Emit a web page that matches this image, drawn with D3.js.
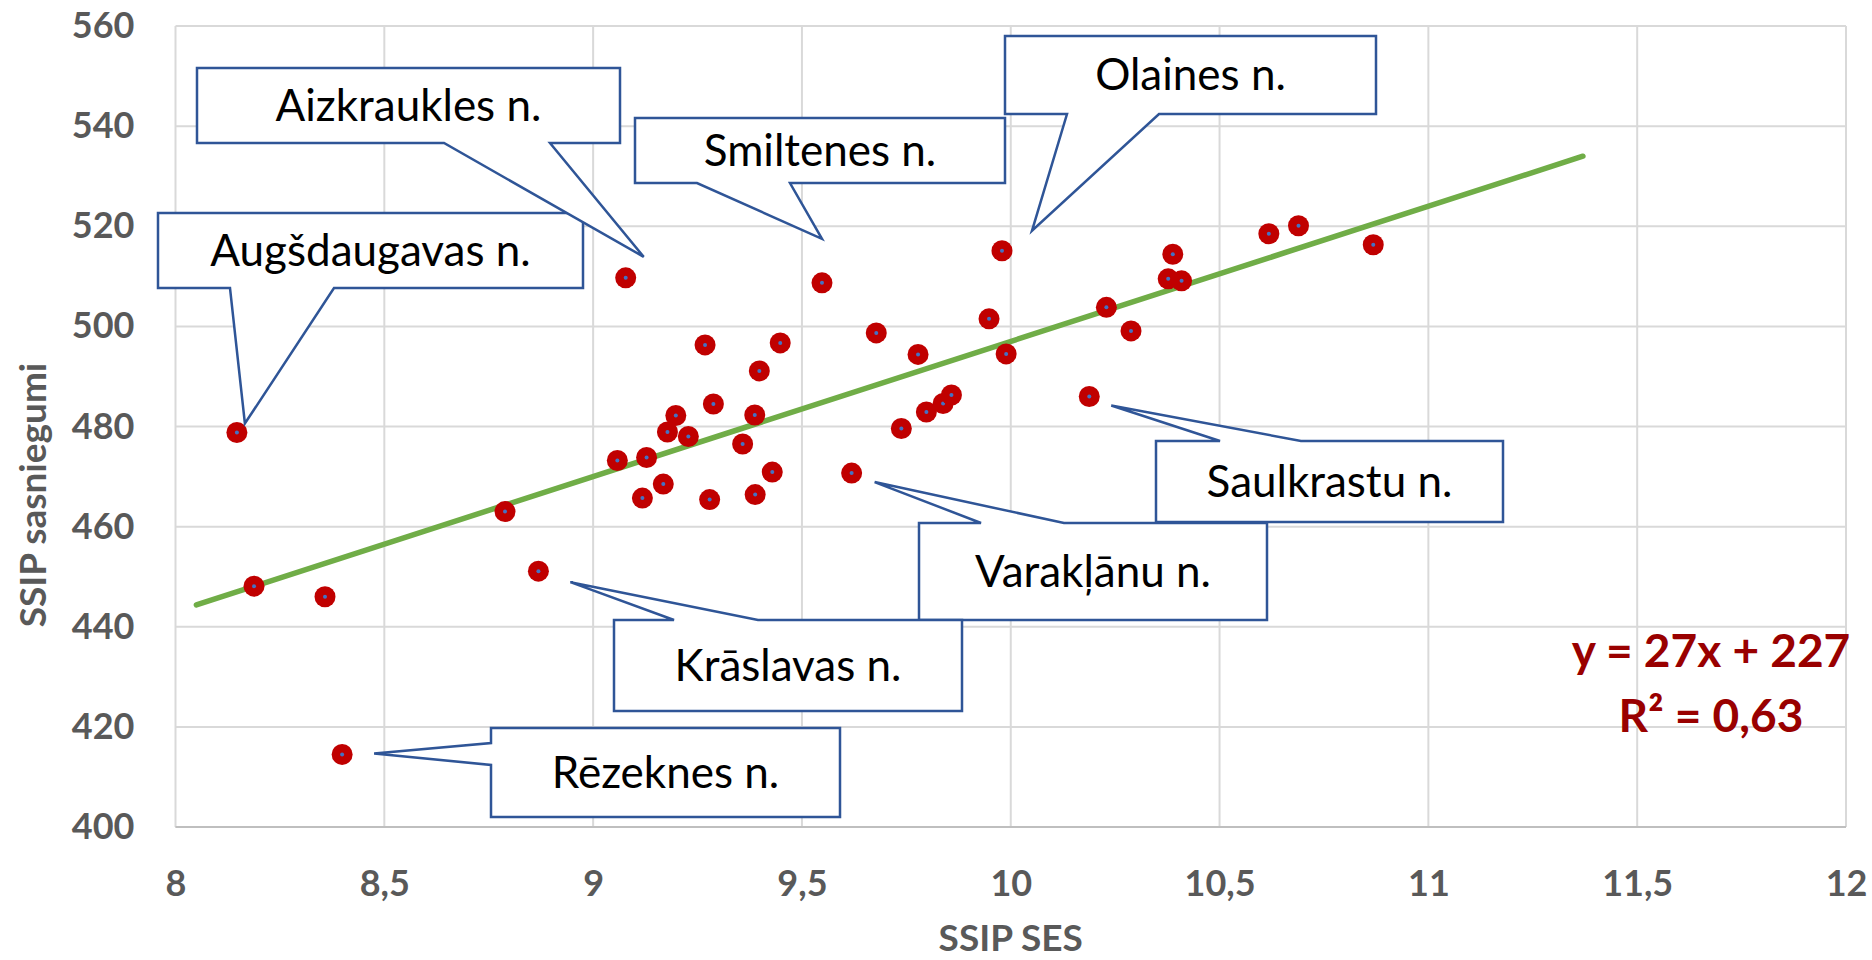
<!DOCTYPE html>
<html>
<head>
<meta charset="utf-8">
<script src="https://cdn.jsdelivr.net/npm/d3@7"></script>
<style>
  body { margin: 0; background: #fff; }
  svg { display: block; }
  text { font-family: Lato, "Open Sans", sans-serif; }
</style>
</head>
<body>
<svg id="chart" width="1872" height="960"></svg>
<script>
// dati: SSIP SES (x) un SSIP sasniegumi (y)
const ses = [8.147, 8.188, 8.358, 8.399, 8.789, 8.869, 9.058, 9.078, 9.118, 9.128,
  9.168, 9.178, 9.198, 9.228, 9.268, 9.279, 9.288, 9.358, 9.387, 9.388,
  9.398, 9.429, 9.448, 9.548, 9.619, 9.678, 9.738, 9.778, 9.798, 9.838,
  9.858, 9.948, 9.979, 9.989, 10.188, 10.229, 10.288, 10.377, 10.388, 10.409,
  10.618, 10.689, 10.868];
const scores = [478.8, 448.1, 446.0, 414.5, 463.0, 451.1, 473.2, 509.7, 465.7, 473.8,
  468.5, 478.9, 482.2, 478.0, 496.3, 465.4, 484.5, 476.5, 482.3, 466.4,
  491.1, 470.9, 496.7, 508.7, 470.7, 498.7, 479.6, 494.4, 482.9, 484.6,
  486.3, 501.5, 515.1, 494.5, 486.0, 503.8, 499.1, 509.5, 514.4, 509.1,
  518.5, 520.1, 516.3];

// nosaukumi izceltajiem punktiem (indekss datos)
const labelNames = ["Augšdaugavas n.", "Aizkraukles n.", "Smiltenes n.", "Olaines n.",
  "Saulkrastu n.", "Varakļānu n.", "Krāslavas n.", "Rēzeknes n."];
const labelIdx = [0, 7, 23, 32, 34, 24, 5, 3];

// tendences līnija
const trendCoef = [27, 227];
const trendRange = [8.05, 11.37];
const equationLines = ["y = 27x + 227", "R² = 0,63"];

const xTicks = [8, 8.5, 9, 9.5, 10, 10.5, 11, 11.5, 12];
const yTicks = [400, 420, 440, 460, 480, 500, 520, 540, 560];
const xTitle = "SSIP SES";
const yTitle = "SSIP sasniegumi";

// izvietojums (pikseļos) katram uzrakstam: kaste, bultas pamats, gala nobīde no punkta
const callLayout = [
  { box: [158, 213, 583, 288], side: "bottom", base: [230, 334], off: [8, -9] },
  { box: [197, 68, 620, 143], side: "bottom", base: [444, 550], off: [18, -21] },
  { box: [635, 118, 1005, 183], side: "bottom", base: [697, 790], off: [0, -44] },
  { box: [1005, 36, 1376, 114], side: "bottom", base: [1067, 1159], off: [30, -20] },
  { box: [1156, 441, 1503, 522], side: "top", base: [1220, 1301], off: [22, 9] },
  { box: [919, 523, 1267, 620], side: "top", base: [981, 1064], off: [23, 9] },
  { box: [614, 620, 962, 711], side: "top", base: [674, 758], off: [32, 11] },
  { box: [491, 728, 840, 817], side: "left", base: [743, 765], off: [32, -1] }
];

const svg = d3.select("#chart");
const pLeft = 175.5, pRight = 1846, pTop = 26, pBottom = 827;

const x = d3.scaleLinear().domain([8, 12]).range([pLeft, pRight]);
const y = d3.scaleLinear().domain([400, 560]).range([pBottom, pTop]);
const loc = d3.formatLocale({ decimal: ",", thousands: " ", grouping: [3], currency: ["", "€"] });
const fmt = loc.format("~g");

// režģis
svg.append("g").selectAll("line").data(yTicks).join("line")
  .attr("x1", pLeft).attr("x2", pRight)
  .attr("y1", d => y(d)).attr("y2", d => y(d))
  .attr("stroke", "#D9D9D9").attr("stroke-width", 2);
svg.append("g").selectAll("line").data(xTicks).join("line")
  .attr("x1", d => x(d)).attr("x2", d => x(d))
  .attr("y1", pTop).attr("y2", pBottom)
  .attr("stroke", "#D9D9D9").attr("stroke-width", 2);
svg.append("line")
  .attr("x1", pLeft).attr("x2", pRight).attr("y1", pBottom).attr("y2", pBottom)
  .attr("stroke", "#BFBFBF").attr("stroke-width", 2);

// asis
const yAxis = svg.append("g").attr("transform", `translate(${pLeft},0)`)
  .call(d3.axisLeft(y).tickValues(yTicks).tickSize(0).tickPadding(41).tickFormat(fmt));
const xAxis = svg.append("g").attr("transform", `translate(0,${pBottom})`)
  .call(d3.axisBottom(x).tickValues(xTicks).tickSize(0).tickPadding(43).tickFormat(fmt));
[yAxis, xAxis].forEach(g => {
  g.select(".domain").remove();
  g.selectAll("text").attr("font-family", "Lato, sans-serif").attr("font-size", 36)
    .attr("font-weight", 700).attr("fill", "#595959");
});

svg.append("text").attr("x", (pLeft + pRight) / 2).attr("y", 951)
  .attr("text-anchor", "middle").attr("font-size", 37).attr("font-weight", 700)
  .attr("fill", "#595959").text(xTitle);
svg.append("text").attr("transform", "translate(46,495) rotate(-90)")
  .attr("text-anchor", "middle").attr("font-size", 37).attr("font-weight", 700)
  .attr("fill", "#595959").text(yTitle);

// tendences līnija
svg.append("line")
  .attr("x1", x(trendRange[0])).attr("y1", y(trendCoef[0] * trendRange[0] + trendCoef[1]))
  .attr("x2", x(trendRange[1])).attr("y2", y(trendCoef[0] * trendRange[1] + trendCoef[1]))
  .attr("stroke", "#70AD47").attr("stroke-width", 5.5).attr("stroke-linecap", "round");

// punkti
const pts = ses.map((v, i) => ({ x: v, y: scores[i] }));
const dots = svg.append("g").selectAll("g").data(pts).join("g")
  .attr("transform", d => `translate(${x(d.x)},${y(d.y)})`);
dots.append("circle").attr("r", 10.5).attr("fill", "#C00000");
dots.append("circle").attr("r", 2).attr("fill", "#4472C4");

// vienādojums
svg.append("g").selectAll("text").data(equationLines).join("text")
  .attr("x", 1711).attr("y", (d, i) => 667 + i * 65)
  .attr("text-anchor", "middle").attr("font-size", 46).attr("font-weight", 700)
  .attr("fill", "#990000").text(d => d);

// uzraksti ar bultām
function calloutPath(L, tip) {
  const [x0, y0, x1, y1] = L.box;
  const [b1, b2] = L.base;
  if (L.side === "bottom")
    return `M${x0},${y0}H${x1}V${y1}H${b2}L${tip[0]},${tip[1]}L${b1},${y1}H${x0}Z`;
  if (L.side === "top")
    return `M${x0},${y0}H${b1}L${tip[0]},${tip[1]}L${b2},${y0}H${x1}V${y1}H${x0}Z`;
  return `M${x0},${y0}H${x1}V${y1}H${x0}V${b2}L${tip[0]},${tip[1]}L${x0},${b1}Z`;
}

const calls = labelNames.map((name, i) => {
  const p = pts[labelIdx[i]];
  const L = callLayout[i];
  return { name, L, tip: [x(p.x) + L.off[0], y(p.y) + L.off[1]] };
});
const cg = svg.append("g").selectAll("g").data(calls).join("g");
cg.append("path").attr("d", d => calloutPath(d.L, d.tip))
  .attr("fill", "#fff").attr("stroke", "#2F5597").attr("stroke-width", 2.5)
  .attr("stroke-linejoin", "miter");
cg.append("text")
  .attr("x", d => (d.L.box[0] + d.L.box[2]) / 2)
  .attr("y", d => (d.L.box[1] + d.L.box[3]) / 2 + 15)
  .attr("text-anchor", "middle").attr("font-size", 44).attr("fill", "#000")
  .text(d => d.name);
</script>
</body>
</html>
